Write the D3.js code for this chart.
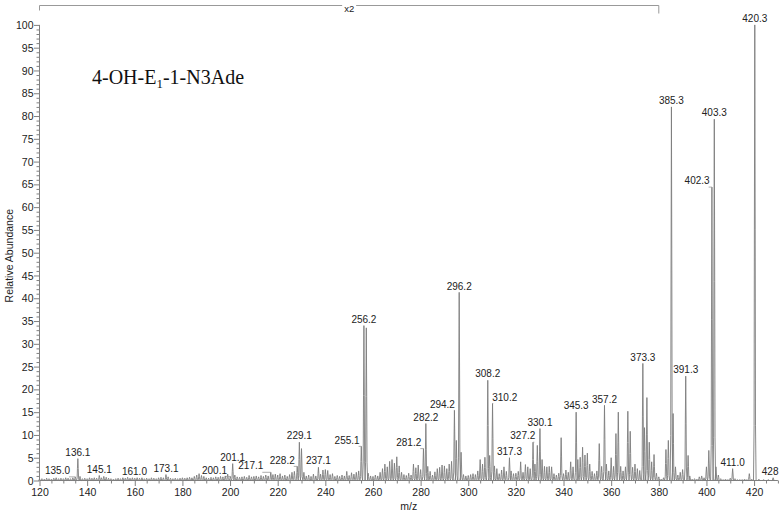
<!DOCTYPE html>
<html><head><meta charset="utf-8">
<script src="https://cdn.jsdelivr.net/npm/d3@7"></script>
<style>body{margin:0;background:#fff}svg{display:block}</style>
</head><body>
<svg id="c" width="783" height="513"></svg>
<script>
// ---- data (m/z, displayed relative abundance) ----
const spectrum = [
[120,.3],[121,.4],[122,.3],[123,.5],[124,.4],[125,.3],[126,.5],[127,.6],[128,.4],[129,.5],
[130,.4],[131,.6],[132,.5],[133,.4],[134,.6],[135.0,.8],[136.1,4.8],[137,.9],[138,.4],[139,.5],
[140,.4],[141,.6],[142,.5],[143,.6],[144,.5],[145.1,1.1],[146,.6],[147,.9],[148,.7],[149,.5],
[150,.4],[151,.3],[152,.4],[153,.5],[154,.4],[155,.6],[156,.5],[157,.7],[158,.5],[159,.6],
[160,.5],[161.0,.6],[162,.5],[163,.6],[164,.4],[165,.5],[166,.4],[167,.6],[168,.5],[169,.4],
[170,.6],[171,.7],[172,.6],[173.1,1.3],[174,.8],[175,.5],[176,.4],[177,.5],[178,.4],[179,.5],
[180,.6],[181,.5],[182,.6],[183,.7],[184,.6],[185,.9],[186,1.2],[187,1.5],[188,1.1],[189,.9],
[190,.6],[191,.5],[192,.7],[193,.6],[194,.8],[195,.7],[196,.9],[197,.8],[198,1.0],[199,1.4],
[200.1,.9],[201.1,3.7],[202,1.2],[203,.8],[204,.7],[205,.8],[206,.9],[207,.7],[208,1.1],[209,.8],
[210,.9],[211,1.0],[212,.8],[213,1.1],[214,.9],[215,1.2],[216,1.0],[217.1,1.8],[218,1.3],[219,1.4],
[220,1.2],[221,1.5],[222,1.0],[223,1.2],[224,.9],[225,1.3],[226,1.8],[227,2.0],[228.2,3.1],[229.1,8.4],
[230,7.0],[231,1.8],[232,1.0],[233,1.2],[234,.9],[235,1.4],[236,1.0],[237.1,2.9],[238,1.4],[239,2.3],
[240,2.4],[241,2.2],[242,1.3],[243,1.5],[244,.9],[245,1.1],[246,.9],[247,1.2],[248,1.0],[249,2.0],
[250,1.1],[251,1.7],[252,1.4],[253,1.8],[254,2.1],[255.1,7.5],[256.2,34],[257.2,33.5],[258,1.6],[259,1.0],
[260,.9],[261,1.2],[262,1.0],[263,1.8],[264,2.6],[265,3.6],[266,3.0],[267,4.2],[268,4.6],[269,3.8],
[270,5.2],[271,3.2],[272,1.8],[273,1.3],[274,1.1],[275,1.6],[276,1.2],[277,3.6],[278,2.8],[279,3.4],
[280,2.4],[281.2,7.0],[282.2,12.5],[283,3.1],[284,2.0],[285,1.2],[286,1.9],[287,2.6],[288,2.9],[289,3.4],
[290,3.2],[291,2.6],[292,3.6],[293,4.2],[294.2,15.4],[295,8.8],[296.2,41.3],[297,6.2],[298,1.3],[299,1.0],
[300,1.1],[301,1.3],[302,1.5],[303,1.3],[304,2.1],[305,4.6],[306,3.6],[307,5.1],[308.2,22],[309,5.5],
[310.2,16.9],[311,3.2],[312,2.6],[313,1.5],[314,2.3],[315,3.0],[316,2.0],[317.3,5.0],[318,2.1],[319,1.5],
[320,1.6],[321,2.0],[322,4.1],[323,1.8],[324,3.5],[325,3.0],[326,2.6],[327.2,8.4],[328,3.6],[329,7.7],
[330.1,11.4],[331,4.6],[332,3.1],[333,3.0],[334,3.1],[335,3.0],[336,1.5],[337,1.2],[338,1.6],[339,9.4],
[340,1.5],[341,2.3],[342,1.8],[343,4.1],[344,3.0],[345.3,15],[346,4.6],[347,5.1],[348,7.3],[349,5.6],
[350,6.0],[351,3.6],[352,2.0],[353,1.5],[354,2.1],[355,8.1],[356,3.1],[357.2,16.5],[358,3.6],[359,2.1],
[360,5.0],[361,3.1],[362,10.3],[363,15],[364,3.1],[365,2.1],[366,3.0],[367,15.2],[368,10.8],[369,2.9],
[370,3.6],[371,2.6],[372,2.2],[373.3,25.7],[374,11.6],[375,18.2],[376,8.4],[377,4.1],[378,5.7],[379,1.6],
[380,.8],[381,.3],[382,.6],[383,6.8],[384,8.8],[385.3,82],[386,14.7],[387,3.0],[388,1.2],[389,1.8],
[390,2.4],[391.3,22.9],[392.3,5.5],[393,1.0],[394,.3],[395,.4],[396,.3],[397,.8],[398,1.0],[399,.6],
[400,3.0],[401,6.6],[402.3,64.4],[403.3,79.3],[404,3.0],[405,1.2],[406,.4],[407,.2],[408,.3],[409,.2],
[410,.5],[411.0,2.6],[412,.4],[413,.2],[414,.2],[415,.2],[416,.3],[417,.2],[418,1.5],[419,.3],
[420.3,100],[422,.3],[424,.2],[426,.2],[428,.6]
];
const labelMz   = [135.0,136.1,145.1,161.0,173.1,200.1,201.1,217.1,228.2,229.1,237.1,255.1,256.2,281.2,282.2,294.2,296.2,308.2,310.2,317.3,327.2,330.1,345.3,357.2,373.3,385.3,391.3,402.3,403.3,411.0,420.3,428];
const labelText = ["135.0","136.1","145.1","161.0","173.1","200.1","201.1","217.1","228.2","229.1","237.1","255.1","256.2","281.2","282.2","294.2","296.2","308.2","310.2","317.3","327.2","330.1","345.3","357.2","373.3","385.3","391.3","402.3","403.3","411.0","420.3","428"];
const xTicks = [120,140,160,180,200,220,240,260,280,300,320,340,360,380,400,420];
const yTicks = [0,5,10,15,20,25,30,35,40,45,50,55,60,65,70,75,80,85,90,95,100];
const magnifiedRange = [120, 380];
const magnifiedText = "x2";

// ---- layout ----
const labelShift = {"135.0":-17.7,"200.1":-15.8,"217.1":-20,"228.2":-15,"255.1":-14.2,"281.2":-14.7,"294.2":-12,"310.2":12.2,"327.2":-10.2,"402.3":-14.8,"161.0":-2.7,"428":-3};
const noLeader = {"161.0":1,"428":1};

const svg = d3.select("#c");
const x = d3.scaleLinear().domain([120, 430]).range([39.5, 777.9]);
const y = d3.scaleLinear().domain([0, 100]).range([480.5, 24.9]);
const FONT = "'Liberation Sans', Arial, sans-serif";
const AX = "#808080";

// y axis
const yMinor = d3.range(0, 101, 1);
const gy = svg.append("g").attr("transform", `translate(${x(120)},0)`);
gy.call(d3.axisLeft(y).tickValues(yMinor).tickSize(3).tickFormat(""));
gy.call(g => g.selectAll(".tick").filter(d => d % 5 === 0).select("line").attr("x2", -5.5));
gy.call(g => g.selectAll(".tick").filter(d => d % 5 === 0).append("text")
  .attr("x", -6).attr("dy", "0.34em").attr("text-anchor", "end").attr("fill", "#222")
  .style("font", `10.5px ${FONT}`).text(d => d));
gy.selectAll("line").attr("stroke", AX);
gy.select(".domain").attr("stroke", AX).attr("d", `M0,${y(0)}V${y(100)}`);
gy.selectAll(".tick text").filter(function(){return this.textContent==="";}).remove();

// x axis
const xMinor = d3.range(120, 431, 5);
const gx = svg.append("g").attr("transform", `translate(0,${y(0)})`);
gx.call(d3.axisBottom(x).tickValues(xMinor).tickSize(3).tickFormat(""));
gx.call(g => g.selectAll(".tick").filter(d => xTicks.includes(d)).select("line").attr("y2", 5.5));
gx.call(g => g.selectAll(".tick").filter(d => xTicks.includes(d)).append("text")
  .attr("y", 8).attr("dy", "0.71em").attr("text-anchor", "middle").attr("fill", "#222")
  .style("font", `10.5px ${FONT}`).text(d => d));
gx.selectAll("line").attr("stroke", AX);
gx.select(".domain").attr("stroke", AX).attr("d", `M${x(120)},0H${x(430)}`);

// spectrum peaks
const shape = [[-0.55,0],[-0.3,0.12],[-0.17,0.55],[0,1],[0.17,0.55],[0.3,0.12],[0.55,0]];
const peakLine = d3.line();
svg.append("g").selectAll("path").data(spectrum).join("path")
  .attr("d", d => peakLine(shape.map(s => [x(d[0] + s[0]), y(d[1] * s[1])])))
  .attr("fill", "none").attr("stroke", "#7d7d7d").attr("stroke-width", 0.9);

// peak labels
const lg = svg.append("g").style("font", `10px ${FONT}`).attr("fill", "#222");
labelMz.forEach((mz, i) => {
  const t = labelText[i];
  const pk = spectrum.find(p => p[0] === mz);
  const px = x(mz), py = y(pk[1]);
  const dx = labelShift[t] || 0;
  const txt = lg.append("text").attr("x", px + dx).attr("y", py - 2.8)
    .attr("text-anchor", "middle").text(t);
  if (dx && !noLeader[t]) {
    const w = txt.node().getComputedTextLength();
    const edge = dx < 0 ? px + dx + w / 2 - 1 : px + dx - w / 2 + 1;
    lg.append("line").attr("x1", edge).attr("x2", px).attr("y1", py).attr("y2", py)
      .attr("stroke", "#999").attr("stroke-width", 0.8);
  }
});

// magnification bracket
const by = 5.5;
svg.append("path")
  .attr("d", `M${x(magnifiedRange[0])},${by + 5}V${by}H${x(magnifiedRange[1])}V${by + 8}`)
  .attr("fill", "none").attr("stroke", "#999").attr("stroke-width", 1);
const mx = (x(magnifiedRange[0]) + x(magnifiedRange[1])) / 2;
svg.append("rect").attr("x", mx - 7).attr("y", 0).attr("width", 14).attr("height", 12).attr("fill", "#fff");
svg.append("text").attr("x", mx).attr("y", 12).attr("text-anchor", "middle")
  .style("font", `9.5px ${FONT}`).attr("fill", "#222").text(magnifiedText);

// axis titles
svg.append("text").attr("transform", `translate(13,${(y(0) + y(100)) / 2 + 3}) rotate(-90)`)
  .attr("text-anchor", "middle").style("font", `10.5px ${FONT}`).attr("fill", "#222").text("Relative Abundance");
svg.append("text").attr("x", (x(120) + x(430)) / 2).attr("y", 510).attr("text-anchor", "middle")
  .style("font", `10.5px ${FONT}`).attr("fill", "#222").text("m/z");

// compound name
const title = svg.append("text").attr("x", 92).attr("y", 84)
  .style("font", `20px 'Liberation Serif', 'Times New Roman', serif`).attr("fill", "#111");
title.append("tspan").text("4-OH-E");
title.append("tspan").attr("dy", 4).style("font-size", "13px").text("1");
title.append("tspan").attr("dy", -4).text("-1-N3Ade");
</script>
</body></html>
